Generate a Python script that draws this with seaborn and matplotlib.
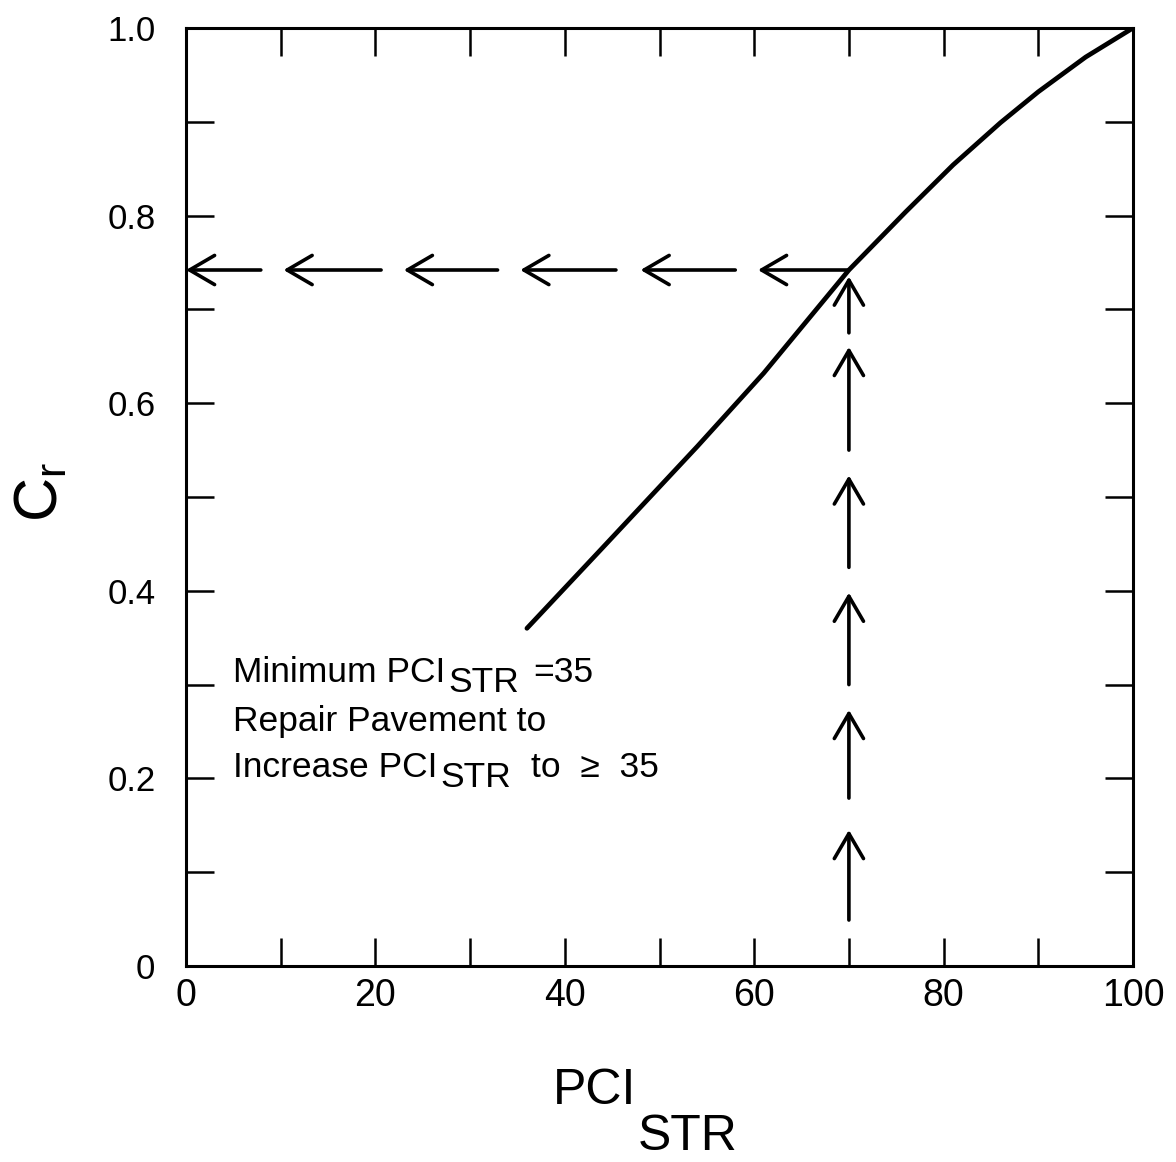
import matplotlib
matplotlib.use("Agg")
import matplotlib.pyplot as plt
import seaborn as sns
import pandas as pd

# ---- data ----
pci_str = [36, 44, 54, 61, 70, 76, 81, 86, 90, 95, 100]
cr_vals = [0.360, 0.446, 0.554, 0.632, 0.742, 0.804, 0.854, 0.899, 0.932, 0.969, 1.0]

h_arrow_y = 0.742
h_head_x = [0.0, 10.3, 23.0, 35.3, 48.0, 60.4]
h_tail_x = [7.9, 20.6, 32.9, 45.4, 58.0, 70.0]

v_arrow_x = 70.0
v_head_y = [0.735, 0.660, 0.523, 0.398, 0.273, 0.145]
v_tail_y = [0.675, 0.550, 0.425, 0.300, 0.179, 0.049]

x_ticks = [0, 10, 20, 30, 40, 50, 60, 70, 80, 90, 100]
x_ticklabels = ["0", "", "20", "", "40", "", "60", "", "80", "", "100"]
y_ticks = [0, 0.1, 0.2, 0.3, 0.4, 0.5, 0.6, 0.7, 0.8, 0.9, 1.0]
y_ticklabels = ["0", "", "0.2", "", "0.4", "", "0.6", "", "0.8", "", "1.0"]

# (text, gap before in px, baseline offset px: positive = lower)
note_lines = [
    [("Minimum PCI", 0, 0), ("STR", 3, 10), ("=35", 14, 0)],
    [("Repair Pavement to", 0, 0)],
    [("Increase PCI", 0, 0), ("STR", 3, 10), ("to  \u2265  35", 20, 0)],
]
note_baselines = [682, 731, 777]

W, H = 1176, 1162

sns.set_theme(style="ticks")
plt.rcParams["font.family"] = ["Liberation Sans", "DejaVu Sans"]
plt.rcParams["text.color"] = "black"
plt.rcParams["mathtext.fontset"] = "custom"
plt.rcParams["mathtext.rm"] = "Liberation Sans"

fig = plt.figure(figsize=(W / 100, H / 100), dpi=100)
ax = fig.add_axes([186 / W, 1 - 966 / H, (1133 - 186) / W, (966 - 28) / H])

df = pd.DataFrame({"PCI": pci_str, "Cr": cr_vals})
sns.lineplot(data=df, x="PCI", y="Cr", ax=ax, color="black", linewidth=3.4)

arrow_style = "->,head_length=0.6,head_width=0.35"
for hx, tx in zip(h_head_x, h_tail_x):
    ax.annotate("", xy=(hx, h_arrow_y), xytext=(tx, h_arrow_y),
                arrowprops=dict(arrowstyle=arrow_style, lw=2.6, color="black",
                                mutation_scale=30, shrinkA=0, shrinkB=0))
for hy, ty in zip(v_head_y, v_tail_y):
    ax.annotate("", xy=(v_arrow_x, hy), xytext=(v_arrow_x, ty),
                arrowprops=dict(arrowstyle=arrow_style, lw=2.6, color="black",
                                mutation_scale=30, shrinkA=0, shrinkB=0))

ax.set_xlim(0, 100)
ax.set_ylim(0, 1.0)
ax.set_xticks(x_ticks)
ax.set_xticklabels(x_ticklabels)
ax.set_yticks(y_ticks)
ax.set_yticklabels(y_ticklabels)
ax.tick_params(direction="in", length=20, width=1.8, top=True, right=True,
               colors="black")
ax.tick_params(axis="x", pad=9, labelsize=27)
ax.tick_params(axis="y", pad=22, labelsize=25)
for s in ax.spines.values():
    s.set_linewidth(2.2)
    s.set_color("black")
ax.set_xlabel("")
ax.set_ylabel("")

# axis titles
fig.text(595 / W, 1 - 1091 / H, "PCI", fontsize=36, ha="center", va="center")
fig.text(688 / W, 1 - 1137 / H, "STR", fontsize=36, ha="center", va="center")
fig.text(42 / W, 1 - 492 / H, r"$\mathregular{C_r}$", fontsize=44,
         rotation=90, ha="center", va="center")

# annotation with same-size, lowered subscripts
fig.canvas.draw()
renderer = fig.canvas.get_renderer()
fs = 25.5
for parts, by in zip(note_lines, note_baselines):
    xp = 233
    for txt, gap, dy in parts:
        xp += gap
        t = fig.text(xp / W, 1 - (by + dy) / H, txt, fontsize=fs,
                     ha="left", va="baseline", color="black")
        xp += t.get_window_extent(renderer).width

fig.savefig("out.png", dpi=100, facecolor="white")
